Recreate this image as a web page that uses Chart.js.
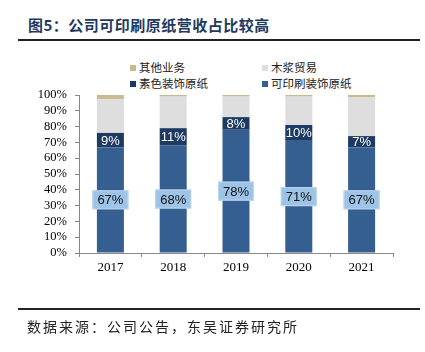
<!DOCTYPE html>
<html>
<head>
<meta charset="utf-8">
<script src="https://cdn.jsdelivr.net/npm/chart.js@4"></script>
<style>
  body { margin: 0; background: #fff; }
  #wrap { position: relative; width: 425px; height: 352px; overflow: hidden; font-family: "Noto Sans CJK SC", sans-serif; }
  #wrap canvas { position: absolute; left: 0; top: 0; }
  .title { position: absolute; left: 28px; top: 14px; font-size: 15px; font-weight: bold; color: #1f3a60; letter-spacing: 0.5px; white-space: nowrap; }
  .rule { position: absolute; left: 18px; width: 402px; height: 2px; background: #222; }
  .foot { position: absolute; left: 27px; top: 316px; font-size: 14px; color: #222; letter-spacing: 2px; white-space: nowrap; }
  .leg { position: absolute; font-size: 11.5px; color: #222; white-space: nowrap; line-height: 14px; }
  .leg i { display: inline-block; width: 6px; height: 6px; margin-right: 3px; vertical-align: 1px; }
</style>
</head>
<body>
<div id="wrap">
  <div class="title">图5：公司可印刷原纸营收占比较高</div>
  <div class="rule" style="top:39px"></div>
  <div id="legend"></div>
  <canvas id="shareChart" width="425" height="352"></canvas>
  <div class="rule" style="top:308px"></div>
  <div class="foot">数据来源：公司公告，东吴证券研究所</div>
</div>
<script>
const years = ["2017", "2018", "2019", "2020", "2021"];
const printable = [67, 68, 78, 71, 67];   // 可印刷装饰原纸
const plain = [9, 11, 8, 10, 7];          // 素色装饰原纸
const pulp = [21.5, 20, 13, 18, 24.5];    // 木浆贸易
const other = [2.5, 1, 1, 1, 1.5];        // 其他业务
const yTicks = [0, 10, 20, 30, 40, 50, 60, 70, 80, 90, 100];

document.addEventListener('DOMContentLoaded', function () {
    const ctx = document.getElementById('shareChart').getContext('2d');

    // labels in the bars
    const barLabels = {
        id: 'barLabels',
        afterDatasetsDraw(chart) {
            const c = chart.ctx;
            c.save();
            c.font = '13px "Liberation Sans", Arial, sans-serif';
            c.textAlign = 'center';
            c.textBaseline = 'middle';
            chart.getDatasetMeta(0).data.forEach((bar, i) => {
                const y = (bar.y + bar.base) / 2;
                const w = 36, h = 19;
                c.fillStyle = '#9dc3e6';
                c.fillRect(bar.x - w / 2, y - h / 2, w, h);
                c.strokeStyle = '#bdd7ee';
                c.lineWidth = 1;
                c.strokeRect(bar.x - w / 2 + 0.5, y - h / 2 + 0.5, w - 1, h - 1);
                c.fillStyle = '#111';
                c.fillText(printable[i] + '%', bar.x, y + 1);
            });
            chart.getDatasetMeta(1).data.forEach((bar, i) => {
                const y = (bar.y + bar.base) / 2;
                c.fillStyle = '#fff';
                c.fillText(plain[i] + '%', bar.x, y + 1);
            });
            c.restore();
        }
    };

    const data = {
        labels: years,
        datasets: [
            { label: '可印刷装饰原纸', data: printable, backgroundColor: '#365f91' },
            { label: '素色装饰原纸', data: plain, backgroundColor: '#1d3a62' },
            { label: '木浆贸易', data: pulp, backgroundColor: '#dedede' },
            { label: '其他业务', data: other, backgroundColor: '#c7bb8e' }
        ]
    };

    const myChart = new Chart(ctx, {
        type: 'bar',
        data: data,
        options: {
            responsive: false,
            animation: false,
            layout: { padding: { left: 0, right: 32, top: 95, bottom: 69 } },
            datasets: { bar: { categoryPercentage: 1, barPercentage: 0.43, borderWidth: 0 } },
            plugins: {
                legend: { display: false },
                title: { display: false },
                tooltip: { enabled: false }
            },
            scales: {
                x: {
                    stacked: true,
                    afterFit: s => { s.height = 30; },
                    border: { display: true, color: '#888', width: 1 },
                    grid: { display: true, offset: true, drawOnChartArea: false, drawTicks: true, tickLength: 4, color: '#888' },
                    ticks: { color: '#000', padding: 3, font: { family: '"Liberation Serif", serif', size: 13 } }
                },
                y: {
                    stacked: true,
                    min: 0,
                    max: 100,
                    afterFit: s => { s.width = 79; },
                    afterBuildTicks: s => { s.ticks = yTicks.map(v => ({ value: v })); },
                    border: { display: true, color: '#888', width: 1 },
                    grid: { display: true, drawOnChartArea: false, drawTicks: true, tickLength: 4, color: '#888' },
                    ticks: {
                        autoSkip: false,
                        color: '#000',
                        padding: 8,
                        font: { family: '"Liberation Serif", serif', size: 12.5 },
                        callback: v => v + '%'
                    }
                }
            }
        },
        plugins: [barLabels]
    });

    // legend: 2 x 2 grid, top dataset first
    const spots = [[130, 60], [262, 60], [130, 76], [262, 76]];
    const legend = document.getElementById('legend');
    myChart.data.datasets.slice().reverse().forEach((ds, k) => {
        const el = document.createElement('div');
        el.className = 'leg';
        el.style.left = spots[k][0] + 'px';
        el.style.top = spots[k][1] + 'px';
        el.innerHTML = '<i style="background:' + ds.backgroundColor + '"></i>' + ds.label;
        legend.appendChild(el);
    });
});
</script>
</body>
</html>
